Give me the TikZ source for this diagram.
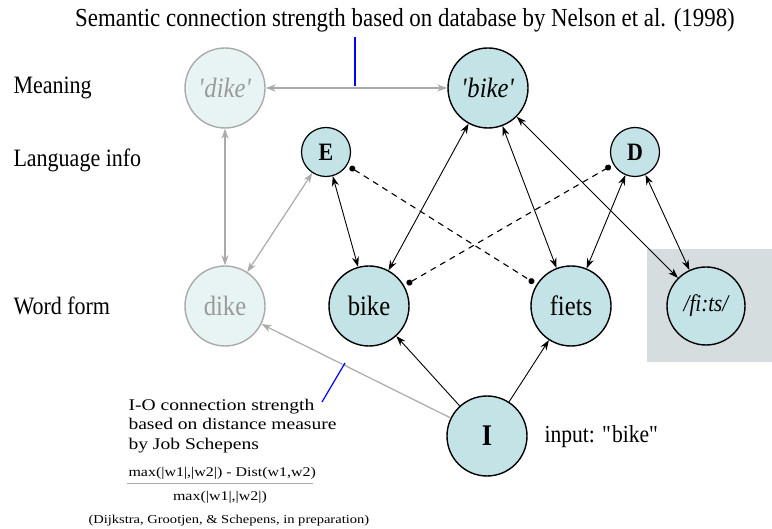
\documentclass[tikz,border=0pt]{standalone}
\usepackage{fontspec}
\setmainfont{Liberation Serif}
\newfontfamily\cond{Liberation Serif}[FakeStretch=0.88]
\newfontfamily\widef{Liberation Serif}[FakeStretch=1.2]
\usetikzlibrary{arrows.meta}
\definecolor{nodefill}{HTML}{C4E3E6}
\definecolor{fadefill}{HTML}{E8F4F4}
\definecolor{fadeline}{HTML}{AAAAAA}
\definecolor{fadetext}{HTML}{999999}
\definecolor{boxgray}{HTML}{D5DDDF}
\begin{document}
\begin{tikzpicture}[x=1pt,y=-1pt,
  big/.style={circle,draw=black,line width=1.4pt,fill=nodefill,minimum size=80pt,inner sep=0pt,font=\cond\fontsize{28}{30}\selectfont},
  small/.style={circle,draw=black,line width=1.2pt,fill=nodefill,minimum size=49pt,inner sep=0pt,font=\cond\fontsize{25}{27}\selectfont\bfseries},
  faded/.style={circle,draw=fadeline,line width=1.4pt,fill=fadefill,text=fadetext,minimum size=80pt,inner sep=0pt,font=\cond\fontsize{28}{30}\selectfont},
  lbl/.style={anchor=west,font=\cond\fontsize{25}{27}\selectfont},
  blk/.style={line width=0.9pt,{Stealth[length=10pt,width=7pt]}-{Stealth[length=10pt,width=7pt]}},
  blkone/.style={line width=0.9pt,-{Stealth[length=10pt,width=7pt]}},
  gry/.style={draw=fadeline,line width=1.2pt,{Stealth[length=10pt,width=7pt]}-{Stealth[length=10pt,width=7pt]}},
  gryone/.style={draw=fadeline,line width=1.2pt,-{Stealth[length=10pt,width=7pt]}},
  dsh/.style={line width=1.1pt,dash pattern=on 6pt off 5pt,{Circle[length=6pt]}-{Circle[length=6pt]},shorten <=3pt,shorten >=3pt}
]
\useasboundingbox (0,0) rectangle (772,529);
\fill[boxgray] (647,249) rectangle (772,362);

\node[font=\cond\fontsize{26}{28}\selectfont] (title) at (405,20) {Semantic connection strength based on database by Nelson et al. (1998)};
\node[lbl] (lmeaning) at (10,88) {Meaning};
\node[lbl] (llang) at (10,160) {Language info};
\node[lbl] (lform) at (10,306) {Word form};

\node[faded,font=\cond\fontsize{28}{30}\selectfont\itshape] (dikem) at (225,88) {\textquotesingle dike\textquotesingle};
\node[big,font=\cond\fontsize{28}{30}\selectfont\itshape] (bikem) at (488,88) {\textquotesingle bike\textquotesingle};
\node[small] (E) at (326,152) {E};
\node[small] (D) at (635,152) {D};
\node[faded] (dikew) at (225,306) {dike};
\node[big] (bikew) at (369,306) {bike};
\node[big] (fiets) at (571,306) {fiets};
\node[big,minimum size=78pt,font=\cond\fontsize{24}{26}\selectfont\itshape] (fits) at (706,306) {/fi:ts/};
\node[big,font=\cond\fontsize{30}{32}\selectfont\bfseries] (I) at (487,436) {I};
\node[lbl,font=\cond\fontsize{24.5}{26}\selectfont] (input) at (541,437) {input: \textquotedbl bike\textquotedbl};

% gray connections
\draw[gry] (dikem) -- (bikem);
\draw[gry] (dikem) -- (dikew);
\draw[gry] (E) -- (dikew);
\draw[gryone] (I) -- (dikew);

% black connections
\draw[blk] (E) -- (bikew);
\draw[blk] (bikem) -- (bikew);
\draw[blk] (bikem) -- (fiets);
\draw[blk] (bikem) -- (fits);
\draw[blk] (D) -- (fiets);
\draw[blk] (D) -- (fits);
\draw[blkone] (I) -- (bikew);
\draw[blkone] (I) -- (fiets);

% dashed inhibitory
\draw[dsh] (E) -- (fiets);
\draw[dsh] (bikew) -- (D);

% blue markers
\coordinate (bt1) at (355,37);
\coordinate (bt2) at (355,86);
\draw[blue,line width=1.2pt] (bt1) -- (bt2);
\coordinate (bb1) at (345,363);
\coordinate (bb2) at (322,402);
\draw[blue,line width=1.2pt] (bb1) -- (bb2);

% bottom text
\node[anchor=west,align=left,font=\widef\fontsize{16.3}{19.3}\selectfont] (io) at (125,426) {I-O connection strength\\based on distance measure\\by Job Schepens};
\node[anchor=west,font=\widef\fontsize{13.3}{15}\selectfont] (num) at (125,473) {max(|w1|,|w2|) - Dist(w1,w2)};
\coordinate (fl1) at (127,484);
\coordinate (fl2) at (313,484);
\draw[fadeline,line width=1pt] (fl1) -- (fl2);
\node[font=\widef\fontsize{13.3}{15}\selectfont] (den) at (220,497) {max(|w1|,|w2|)};
\node[anchor=west,font=\widef\fontsize{12.1}{14}\selectfont] (cite) at (85,521) {(Dijkstra, Grootjen, \& Schepens, in preparation)};
\end{tikzpicture}
\end{document}
